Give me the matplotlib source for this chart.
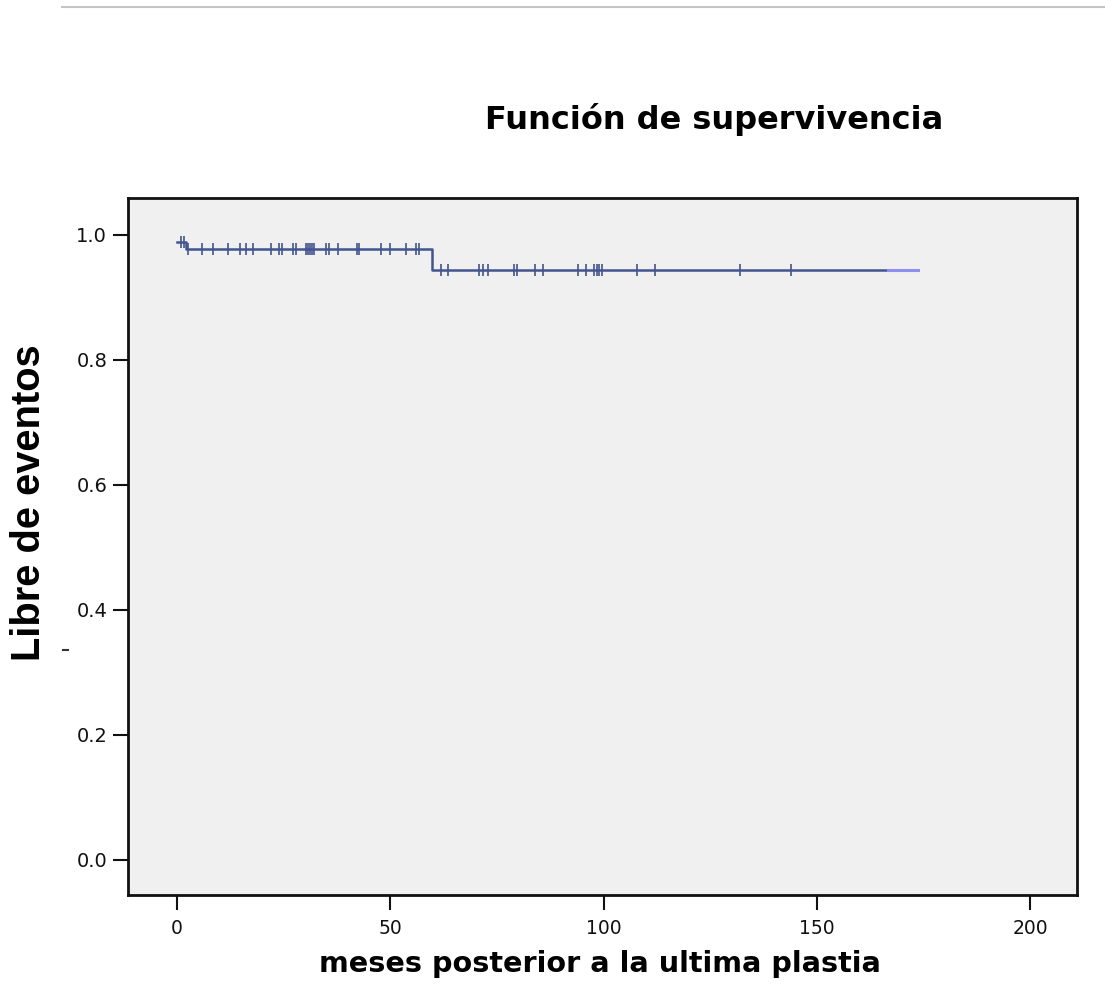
import numpy as np
import matplotlib
matplotlib.use("Agg")
import matplotlib.pyplot as plt
from matplotlib.lines import Line2D

# ---- data ----
event_times = [0.0, 2.1, 59.7]          # times where the survival level changes
survival = [0.989, 0.978, 0.944]        # survival level from each event time
dark_end = 166.7                        # end of dark part of curve
end_time = 173.8                        # end of follow-up
censor_times = [0.9, 1.6,
                2.6, 5.9, 8.5, 11.9, 14.8, 16.2, 17.7, 22.0, 23.9, 24.7, 27.1, 27.8,
                30.2, 30.6, 31.1, 31.6, 32.1, 34.9, 35.6, 37.8, 42.1, 42.7, 47.8,
                49.9, 53.6, 56.0, 56.8,
                61.8, 63.6, 70.8, 71.8, 73.0, 79.0, 79.8, 83.9, 85.9, 93.9, 95.8,
                97.8, 98.4, 98.9, 99.7, 107.9, 112.1, 132.0, 143.9]
x_ticks = [0, 50, 100, 150, 200]
y_ticks = [0.0, 0.2, 0.4, 0.6, 0.8, 1.0]

title = "Función de supervivencia"
xlabel = "meses posterior a la ultima plastia"
ylabel = "Libre de eventos"

def level_at(t):
    idx = np.searchsorted(event_times, t, side="right") - 1
    return np.array(survival)[idx]

W, H = 1105, 993
fig = plt.figure(figsize=(W / 100, H / 100), dpi=100)
fig.patch.set_facecolor("white")
ax = fig.add_axes([128 / W, 1 - 895 / H, (1077 - 128) / W, (895 - 198) / H])
ax.set_facecolor("#f0f0f0")

line_col = "#44548e"
# step curve
xs = list(event_times) + [dark_end]
ys = list(survival) + [survival[-1]]
ax.step(xs, ys, where="post", color=line_col, lw=1.8, zorder=3)
ax.plot([dark_end, end_time], [survival[-1], survival[-1]], color="#8f8ff0", lw=2.2, zorder=3)

# censor marks
ct = np.array(censor_times)
ax.plot(ct, level_at(ct), linestyle="none", marker="|", markersize=9,
        markeredgewidth=1.2, color=line_col, zorder=4)

ax.set_xlim(-11.5, 211)
ax.set_ylim(-0.056, 1.059)
ax.set_xticks(x_ticks)
ax.set_xticklabels([str(v) for v in x_ticks])
ax.set_yticks(y_ticks)
ax.set_yticklabels([f"{v:.1f}" for v in y_ticks])

for s in ax.spines.values():
    s.set_linewidth(2.0)
    s.set_color("#111111")
ax.tick_params(direction="out", length=10.5, width=1.5, colors="#111111",
               labelsize=13.5)
ax.tick_params(axis="x", pad=6.5)
ax.tick_params(axis="y", pad=4.5, labelsize=14)
for lab in ax.get_xticklabels() + ax.get_yticklabels():
    lab.set_family(["DejaVu Sans"])

fig.text(714 / W, 1 - 120 / H, title, ha="center", va="center",
         fontsize=23, fontweight="bold", family=["DejaVu Sans"])
fig.text(600 / W, 1 - 964 / H, xlabel, ha="center", va="center",
         fontsize=20.6, fontweight="bold", family=["DejaVu Sans"])
fig.text(29 / W, 1 - 503 / H, ylabel, ha="center", va="center", rotation=90,
         fontsize=28.7, fontweight="bold",
         family=["Liberation Sans", "DejaVu Sans"])

# top gray rule of the scanned page
fig.add_artist(Line2D([62 / W, 1.0], [1 - 7 / H, 1 - 7 / H], color="#c4c4c4", lw=1.5))
fig.add_artist(Line2D([63 / W, 68 / W], [1 - 650 / H, 1 - 650 / H], color="#333333", lw=1.5))

fig.savefig("out.png", dpi=100, facecolor="white")
